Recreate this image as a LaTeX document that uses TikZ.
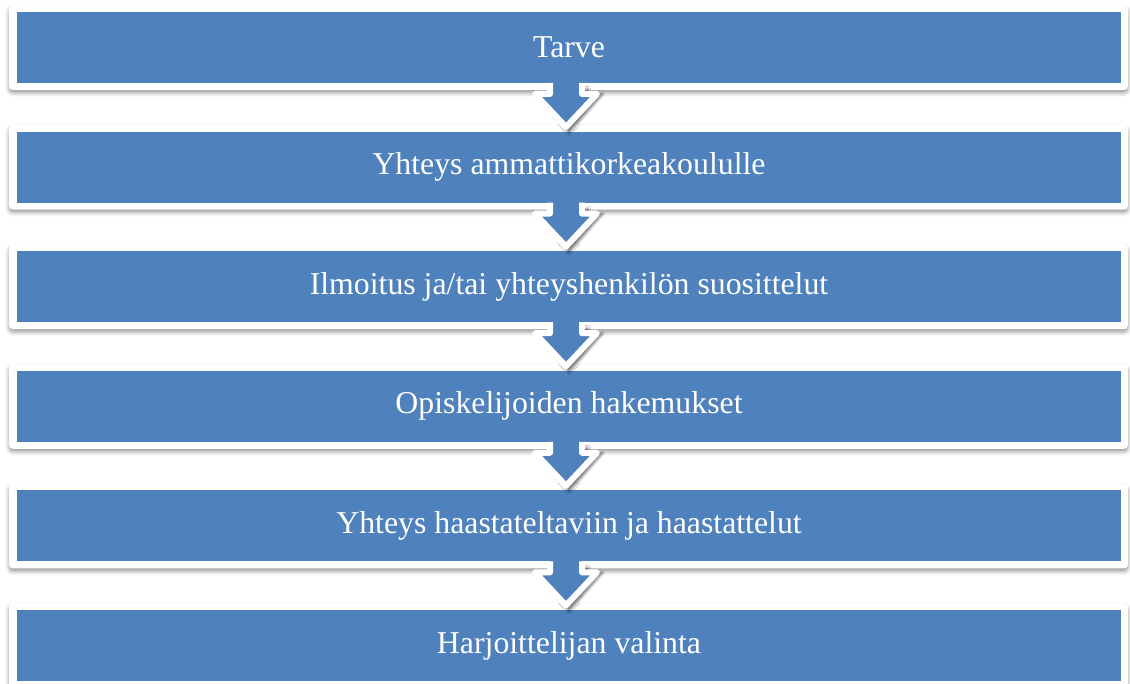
\documentclass[tikz,border=0pt]{standalone}
\usepackage{fontspec}
\setmainfont{Liberation Serif}
\usetikzlibrary{shadows.blur}
\definecolor{boxblue}{RGB}{79,129,189}
\tikzset{
  frame/.style={fill=white, rounded corners=4pt,
    blur shadow={shadow xshift=0pt, shadow yshift=-3pt, shadow blur radius=4pt, shadow opacity=40}},
  inner/.style={fill=boxblue, draw=none, minimum width=1104pt, minimum height=71pt,
    inner sep=0pt, text=white, font=\fontsize{31.8}{38}\selectfont},
  arrowshadow/.style={blur shadow={shadow xshift=3pt, shadow yshift=-3pt, shadow blur radius=2.5pt, shadow opacity=55}},
  arrowline/.style={draw=white, line width=6pt, line join=round}
}
\begin{document}
\begin{tikzpicture}[x=1pt,y=-1pt]
\useasboundingbox (0,0) rectangle (1130,684);
\def\cx{566}
% boxes
\foreach \i/\txt in {0/{Tarve},1/{Yhteys ammattikorkeakoululle},2/{Ilmoitus ja/tai yhteyshenkilön suosittelut},3/{Opiskelijoiden hakemukset},4/{Yhteys haastateltaviin ja haastattelut},5/{Harjoittelijan valinta}}{
  \pgfmathsetmacro{\t}{12+119.6*\i}
  \path[frame] (9,\t-7) rectangle (1128,\t+78);
  \node[inner] (b\i) at (569,\t+35.5) {\txt};
}
% arrows
\foreach \i in {0,...,4}{
  \pgfmathsetmacro{\b}{12+119.6*\i+71}
  \path[arrowshadow] (\cx-19,\b+3) -- (\cx-19,\b+8) -- (\cx-34,\b+8) -- (\cx,\b+47)
     -- (\cx+34,\b+8) -- (\cx+19,\b+8) -- (\cx+19,\b+3) -- cycle;
  \fill[boxblue] (\cx-16,\b-1) -- (\cx-16,\b+11) -- (\cx-31,\b+11) -- (\cx,\b+44)
     -- (\cx+31,\b+11) -- (\cx+16,\b+11) -- (\cx+16,\b-1) -- cycle;
  \draw[arrowline] (\cx-16,\b) -- (\cx-16,\b+11) -- (\cx-31,\b+11) -- (\cx,\b+44)
     -- (\cx+31,\b+11) -- (\cx+16,\b+11) -- (\cx+16,\b);
}
\end{tikzpicture}
\end{document}
